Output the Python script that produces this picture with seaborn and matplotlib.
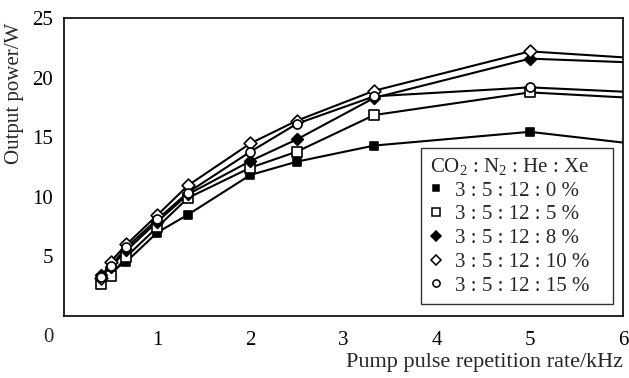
import matplotlib
matplotlib.use("Agg")
import matplotlib.pyplot as plt
import seaborn as sns
import pandas as pd
from matplotlib.lines import Line2D

# ---- data ----
rate_khz = [0.4, 0.5, 0.67, 1.0, 1.33, 2.0, 2.5, 3.33, 5.0, 6.0]
xe_0 = [3.2, 3.7, 4.56, 7.0, 8.5, 11.83, 12.95, 14.3, 15.45, 14.55]
xe_5 = [2.68, 3.36, 4.98, 7.44, 9.9, 12.44, 13.79, 16.86, 18.76, 18.34]
xe_8 = [3.4, 4.1, 5.5, 7.9, 10.2, 13.0, 14.82, 18.3, 21.59, 21.3]
xe_10 = [3.2, 4.55, 6.0, 8.45, 10.95, 14.48, 16.39, 18.9, 22.2, 21.7]
xe_15 = [3.3, 4.2, 5.75, 8.1, 10.36, 13.78, 16.13, 18.43, 19.18, 18.82]
series_labels = ["3 : 5 : 12 : 0 %", "3 : 5 : 12 : 5 %", "3 : 5 : 12 : 8 %",
                 "3 : 5 : 12 : 10 %", "3 : 5 : 12 : 15 %"]
x_ticks = [1, 2, 3, 4, 5, 6]
y_ticks = [5, 10, 15, 20, 25]

series_values = [xe_0, xe_5, xe_8, xe_10, xe_15]
rows = []
for lab, vals in zip(series_labels, series_values):
    for xv, yv in zip(rate_khz, vals):
        rows.append({"rate": xv, "power": yv, "mix": lab})
df = pd.DataFrame(rows)

sns.set_theme(style="white")
plt.rcParams["font.family"] = ["Liberation Serif", "DejaVu Serif"]
plt.rcParams["mathtext.fontset"] = "custom"
plt.rcParams["mathtext.rm"] = "Liberation Serif"
plt.rcParams["mathtext.it"] = "Liberation Serif:italic"

fig = plt.figure(figsize=(6.29, 3.78), dpi=100)
ax = fig.add_axes([64 / 629, 62 / 378, 559 / 629, 298 / 378])

styles = [("s", "black", 6.0), ("s", "white", 7.0), ("D", "black", 6.0),
          ("D", "white", 6.5), ("o", "white", 6.5)]

for lab, (mk, fc, ms) in zip(series_labels, styles):
    sub = df[df["mix"] == lab]
    sns.lineplot(data=sub, x="rate", y="power", ax=ax, color="black",
                 linewidth=1.5, legend=False, zorder=2)
for lab, (mk, fc, ms) in zip(series_labels, styles):
    sub = df[(df["mix"] == lab) & (df["rate"] < 6)]
    sns.scatterplot(data=sub, x="rate", y="power", ax=ax, marker=mk,
                    facecolor=fc, edgecolor="black", linewidth=1.2,
                    s=ms ** 2, legend=False, zorder=3)

ax.set_xlim(0, 6)
ax.set_ylim(0, 25)
ax.set_xticks(x_ticks)
ax.set_yticks(y_ticks)
ax.set_xticklabels([str(t) for t in x_ticks])
ax.set_yticklabels([str(t) for t in y_ticks])
ax.tick_params(direction="in", length=5, width=1.0, colors="black",
               labelsize=15, pad=8)
ax.tick_params(axis="x", pad=11)
for sp in ax.spines.values():
    sp.set_color("black")
    sp.set_linewidth(1.2)
ax.set_xlabel("")
ax.set_ylabel("")
ax.set_facecolor("white")

fig.text(48 / 629, 1 - 338 / 378, "0", fontsize=15, ha="center", va="center")
fig.text(15 / 629, 1 - 93 / 378, "Output power/W", rotation=90, fontsize=15,
         ha="center", va="center")
fig.text(623 / 629, 1 - 363 / 378, "Pump pulse repetition rate/kHz",
         fontsize=16, ha="right", va="center")

handles = []
for lab, (mk, fc, ms) in zip(series_labels, styles):
    handles.append(Line2D([], [], linestyle="none", marker=mk,
                          markerfacecolor=fc, markeredgecolor="black",
                          markeredgewidth=1.1, markersize=ms * 0.8, label=lab))
leg = ax.legend(handles=handles,
                title=r"CO$_\mathregular{2}$ : N$_\mathregular{2}$ : He : Xe",
                loc="lower left", bbox_to_anchor=(0.639, 0.04, 0.3435, 0.5),
                mode="expand",
                fontsize=15, title_fontsize=15, frameon=True, fancybox=False,
                edgecolor="black", handlelength=0.6, handletextpad=0.6,
                labelspacing=0.2, borderpad=0.4, borderaxespad=0.0)
leg.get_frame().set_linewidth(1.0)
leg._legend_box.align = "left"

fig.savefig("out.png", dpi=100, facecolor="white")
